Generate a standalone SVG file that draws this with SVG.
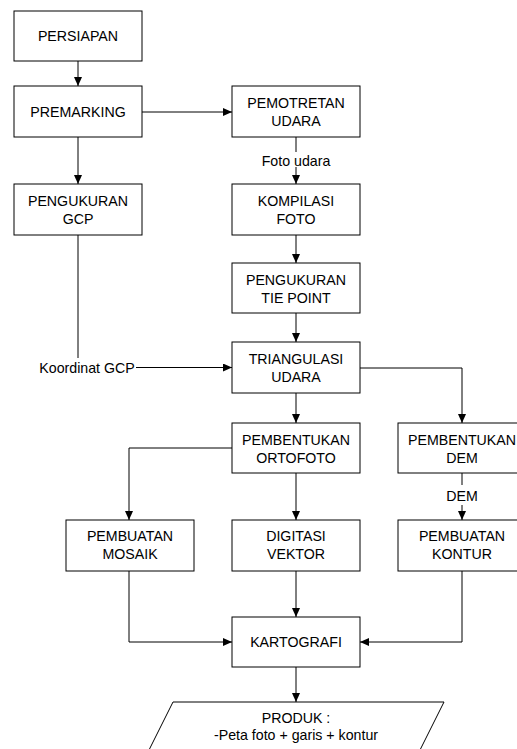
<svg xmlns="http://www.w3.org/2000/svg" width="517" height="749" viewBox="0 0 517 749">
<defs>
<marker id="ah" viewBox="0 0 9 8" refX="9" refY="4" markerWidth="9" markerHeight="8" markerUnits="userSpaceOnUse" orient="auto" preserveAspectRatio="none">
<path d="M0,0 L9,4 L0,8 z" fill="#000"/>
</marker>
<style>
.box{fill:#fff;stroke:#000;stroke-width:1}
.t{font-family:"Liberation Sans",Arial,sans-serif;font-size:14.2px;fill:#000;text-anchor:middle}
.c{fill:none;stroke:#000;stroke-width:1}
.a{marker-end:url(#ah)}
</style>
</defs>
<rect width="517" height="749" fill="#fff"/>
<g id="connectors">
<line class="c a" x1="78" y1="61" x2="78" y2="86"/>
<line class="c a" x1="142" y1="112" x2="232" y2="112"/>
<line class="c a" x1="78" y1="137" x2="78" y2="184"/>
<polyline class="c" points="78,235 78,358"/>
<line class="c a" x1="136" y1="367.5" x2="232" y2="367.5"/>
<line class="c" x1="296" y1="137" x2="296" y2="152"/>
<line class="c a" x1="296" y1="167" x2="296" y2="184"/>
<line class="c a" x1="296" y1="235" x2="296" y2="263"/>
<line class="c a" x1="296" y1="313" x2="296" y2="342"/>
<line class="c a" x1="296" y1="393" x2="296" y2="423"/>
<polyline class="c a" points="360,368 462,368 462,423"/>
<polyline class="c a" points="232,448 129,448 129,520"/>
<line class="c a" x1="296" y1="473" x2="296" y2="520"/>
<line class="c" x1="462" y1="473" x2="462" y2="485"/>
<line class="c a" x1="462" y1="505" x2="462" y2="520"/>
<line class="c a" x1="296" y1="571" x2="296" y2="617"/>
<polyline class="c a" points="129,571 129,642 232,642"/>
<polyline class="c a" points="462,571 462,642 360,642"/>
<line class="c a" x1="296" y1="667" x2="296" y2="702"/>
<text class="t" x="296" y="166">Foto udara</text>
<text class="t" x="87" y="372.5">Koordinat GCP</text>
<text class="t" x="462" y="501">DEM</text>
</g>
<g id="persiapan"><rect class="box" x="14" y="11" width="128" height="50"/><text class="t" x="78" y="41">PERSIAPAN</text></g>
<g id="premarking"><rect class="box" x="14" y="86" width="128" height="51"/><text class="t" x="78" y="117">PREMARKING</text></g>
<g id="pengukuran-gcp"><rect class="box" x="14" y="184" width="128" height="51"/><text class="t" x="78" y="206">PENGUKURAN</text><text class="t" x="78" y="224">GCP</text></g>
<g id="pemotretan"><rect class="box" x="232" y="86" width="128" height="51"/><text class="t" x="296" y="108">PEMOTRETAN</text><text class="t" x="296" y="126">UDARA</text></g>
<g id="kompilasi"><rect class="box" x="232" y="184" width="128" height="51"/><text class="t" x="296" y="206">KOMPILASI</text><text class="t" x="296" y="224">FOTO</text></g>
<g id="tie-point"><rect class="box" x="232" y="263" width="128" height="50"/><text class="t" x="296" y="285">PENGUKURAN</text><text class="t" x="296" y="303">TIE POINT</text></g>
<g id="triangulasi"><rect class="box" x="232" y="342" width="128" height="51"/><text class="t" x="296" y="364">TRIANGULASI</text><text class="t" x="296" y="382">UDARA</text></g>
<g id="ortofoto"><rect class="box" x="232" y="423" width="128" height="50"/><text class="t" x="296" y="445">PEMBENTUKAN</text><text class="t" x="296" y="463">ORTOFOTO</text></g>
<g id="dem"><rect class="box" x="398" y="423" width="128" height="50"/><text class="t" x="462" y="445">PEMBENTUKAN</text><text class="t" x="462" y="463">DEM</text></g>
<g id="mosaik"><rect class="box" x="66" y="520" width="128" height="51"/><text class="t" x="130" y="541">PEMBUATAN</text><text class="t" x="130" y="559">MOSAIK</text></g>
<g id="digitasi"><rect class="box" x="232" y="520" width="128" height="51"/><text class="t" x="296" y="541">DIGITASI</text><text class="t" x="296" y="559">VEKTOR</text></g>
<g id="kontur"><rect class="box" x="398" y="520" width="128" height="51"/><text class="t" x="462" y="541">PEMBUATAN</text><text class="t" x="462" y="559">KONTUR</text></g>
<g id="kartografi"><rect class="box" x="232" y="617" width="128" height="50"/><text class="t" x="296" y="647">KARTOGRAFI</text></g>
<g id="produk"><polygon class="box" points="173,702 444,702 415,760 144,760"/><text class="t" x="296" y="723">PRODUK :</text><text class="t" x="296" y="740">-Peta foto + garis + kontur</text></g>
</svg>
